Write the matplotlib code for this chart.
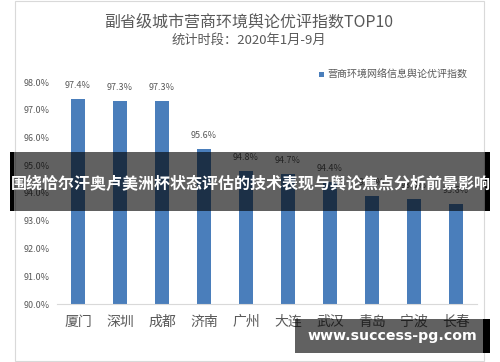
import matplotlib
matplotlib.use("Agg")
import matplotlib.pyplot as plt
from matplotlib.patches import Rectangle

plt.rcParams['font.family'] = ['Noto Sans CJK SC', 'DejaVu Sans']

categories = ["厦门", "深圳", "成都", "济南", "广州", "大连", "武汉", "青岛", "宁波", "长春"]
values = [97.4, 97.3, 97.3, 95.6, 94.8, 94.7, 94.4, 93.9, 93.8, 93.6]
yticks = [90, 91, 92, 93, 94, 95, 96, 97, 98]
title = "副省级城市营商环境舆论优评指数TOP10"
subtitle = "统计时段：2020年1月-9月"
legend_label = "营商环境网络信息舆论优评指数"
banner = "围绕恰尔汗奥卢美洲杯状态评估的技术表现与舆论焦点分析前景影响"
watermark = "www.success-pg.com"

W, H = 500, 362
fig = plt.figure(figsize=(W / 100, H / 100), dpi=100)
fig.patch.set_facecolor("white")

def fx(px):
    return px / W

def fy(py):
    return 1 - py / H

# chart border
fig.patches.append(Rectangle((fx(15), fy(361)), fx(469), 360 / H, transform=fig.transFigure,
                             fill=False, edgecolor="#d9d9d9", linewidth=0.8, zorder=0))

bar_color = "#4a7ebb"
grey = "#595959"

ax = fig.add_axes([fx(57), fy(304), fx(477 - 57), (304 - 82) / H])
x = list(range(len(categories)))
ax.bar(x, values, width=0.31, color=bar_color, bottom=0)
ax.set_ylim(90, 98)
ax.set_xlim(-0.5, len(categories) - 0.5)
ax.set_yticks(yticks)
ax.set_yticklabels([f"{v:.1f}%" for v in yticks], fontsize=6.5, color=grey)
ax.set_xticks(x)
ax.set_xticklabels(categories, fontsize=10, color=grey)
ax.tick_params(axis="both", length=0)
ax.tick_params(axis="y", pad=5)
ax.tick_params(axis="x", pad=8)
for s in ["top", "right", "left"]:
    ax.spines[s].set_visible(False)
ax.spines["bottom"].set_color("#d9d9d9")
for xi, v in zip(x, values):
    ax.annotate(f"{v:.1f}%", (xi, v), xytext=(0, 6.5), textcoords="offset points",
                ha="center", va="bottom", fontsize=6.5, color=grey)

fig.text(fx(249), fy(22), title, ha="center", va="center", fontsize=11.5, color="#595959")
fig.text(fx(249), fy(40), subtitle, ha="center", va="center", fontsize=9.5, color="#595959")

# legend
fig.patches.append(Rectangle((fx(319), fy(77)), fx(5), 5 / H, transform=fig.transFigure,
                             facecolor=bar_color, edgecolor="none"))
fig.text(fx(327), fy(74.5), legend_label, ha="left", va="center", fontsize=7.2, color=grey)

# banner overlay
fig.patches.append(Rectangle((fx(14), fy(211)), fx(471), 59 / H, transform=fig.transFigure,
                             facecolor="black", alpha=0.62, edgecolor="none", zorder=5))
fig.patches.append(Rectangle((fx(10), fy(211)), fx(4), 59 / H, transform=fig.transFigure,
                             facecolor="black", edgecolor="none", zorder=6))
fig.patches.append(Rectangle((fx(485), fy(211)), fx(5), 59 / H, transform=fig.transFigure,
                             facecolor="black", edgecolor="none", zorder=6))
fig.text(fx(251), fy(184), banner, ha="center", va="center", fontsize=11.5,
         color="white", fontweight="bold", zorder=10)

# watermark
fig.patches.append(Rectangle((fx(295), fy(353)), fx(188), 34 / H, transform=fig.transFigure,
                             facecolor="black", alpha=0.62, edgecolor="none", zorder=5))
fig.patches.append(Rectangle((fx(483), fy(353)), fx(7), 34 / H, transform=fig.transFigure,
                             facecolor="black", edgecolor="none", zorder=6))
fig.text(fx(392), fy(336), watermark, ha="center", va="center", fontsize=10.2,
         color="white", fontweight="bold", zorder=10, family=["DejaVu Sans"])

fig.savefig("out.png", dpi=100)
